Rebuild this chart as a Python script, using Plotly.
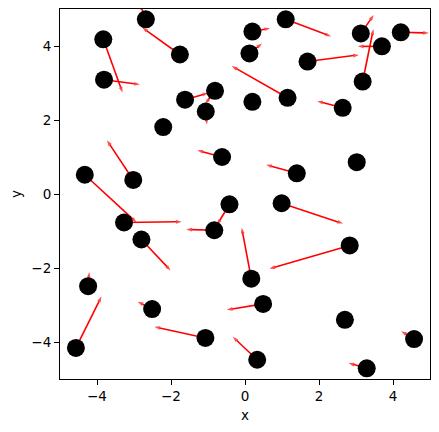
import plotly.graph_objects as go

# Point positions
x = [-2.68, -3.83, -1.76, -3.81, -1.62, -0.81, -1.06, -2.21, -0.62, -3.02,
     -4.33, 1.10, 0.20, 0.12, 3.13, 4.21, 3.70, 1.69, 3.18, 1.15,
     0.20, 2.64, 3.02, 1.40, -3.27, -0.42, -2.80, -0.83, -4.24, -2.51,
     -1.07, -4.57, 0.99, 2.83, 0.17, 0.49, 2.70, 4.57, 0.33, 3.29]
y = [4.72, 4.18, 3.77, 3.09, 2.55, 2.79, 2.23, 1.81, 1.00, 0.38,
     0.52, 4.72, 4.39, 3.80, 4.34, 4.37, 3.99, 3.58, 3.04, 2.60,
     2.49, 2.33, 0.86, 0.56, -0.77, -0.28, -1.23, -0.98, -2.49, -3.11,
     -3.89, -4.16, -0.25, -1.39, -2.29, -2.97, -3.40, -3.92, -4.48, -4.71]
# Vector components
u = [-0.16, 0.52, -1.02, 0.97, 0.63, -0.27, 0.03, 0.05, -0.67, -0.71,
     1.40, 1.23, 0.48, 0.34, 0.35, 0.76, -0.65, 1.39, 0.29, -1.51,
     -0.05, -0.69, -0.06, -0.83, 1.56, -0.34, 0.79, -0.76, 0.03, -0.39,
     -1.38, 0.69, 1.66, -2.17, -0.26, -0.98, 0.27, -0.35, -0.66, -0.49]
v = [0.42, -1.44, 0.73, -0.13, 0.18, -0.36, -0.35, -0.03, 0.18, 1.07,
     -1.29, -0.46, 0.09, 0.27, 0.50, -0.02, 0.00, 0.18, 1.42, 0.86,
     0.04, 0.18, -0.25, 0.23, 0.02, -0.56, -0.84, 0.02, 0.38, 0.20,
     0.30, 1.39, -0.55, -0.63, 1.38, -0.16, 0.00, 0.21, 0.62, 0.14]

tick_vals = [-4, -2, 0, 2, 4]

fig = go.Figure()

for i in range(len(x)):
    fig.add_trace(go.Scatter(
        x=[x[i], x[i] + u[i]], y=[y[i], y[i] + v[i]],
        mode="lines+markers",
        line=dict(color="#ff0000", width=1.6),
        marker=dict(symbol="arrow", size=[0, 6], color="#ff0000",
                    angleref="previous", line=dict(width=0)),
        hoverinfo="skip", showlegend=False))

fig.add_trace(go.Scatter(
    x=x, y=y, mode="markers",
    marker=dict(size=18, color="black", line=dict(width=0)),
    showlegend=False))

axis_common = dict(
    range=[-5, 5], showline=True, mirror=True, linecolor="black", linewidth=1.1,
    ticks="outside", ticklen=5, tickwidth=1.1, tickcolor="black",
    showgrid=False, zeroline=False, tickvals=tick_vals, automargin=False,
    tickfont=dict(family="DejaVu Sans", size=13.5, color="black"),
)

fig.update_xaxes(**axis_common,
                 title=dict(text="x", standoff=7,
                            font=dict(family="DejaVu Sans", size=13.5, color="black")))
fig.update_yaxes(**axis_common,
                 title=dict(text="y", standoff=8,
                            font=dict(family="DejaVu Sans", size=13.5, color="black")))

# page body adds an 8px offset, so the figure is sized to fit the window
fig.update_layout(
    width=431, height=424,
    margin=dict(l=52, r=9, t=1, b=53),
    plot_bgcolor="white", paper_bgcolor="white",
)

fig.write_html("out.html")
